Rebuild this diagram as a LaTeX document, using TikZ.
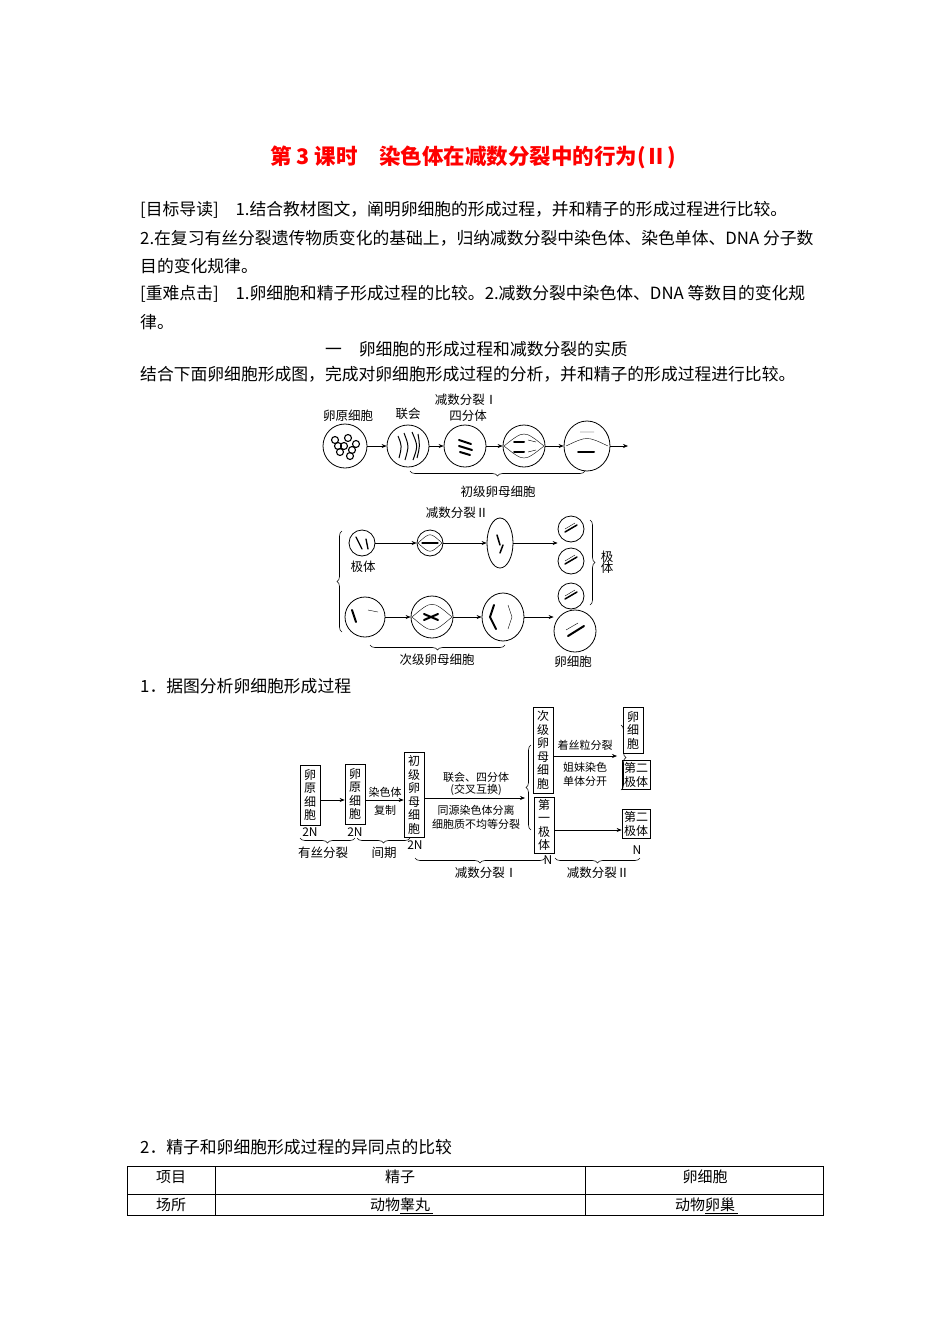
\documentclass[tikz,border=0pt]{standalone}
\usepackage{fontspec}
\setmainfont{Noto Sans CJK SC}
\usetikzlibrary{decorations.pathreplacing,arrows.meta,shapes.geometric}
\begin{document}
\begin{tikzpicture}[x=1pt,y=-1pt,
  body/.style={anchor=west,inner sep=0pt,font=\fontsize{16.8}{19}\selectfont},
  lab/.style={inner sep=0pt,font=\fontsize{12}{14}\selectfont},
  cell/.style={draw,line width=0.8pt},
  arr/.style={-{Stealth[length=5pt,width=4pt]},line width=0.6pt},
  br/.style={decorate,decoration={brace,amplitude=5pt},line width=0.6pt},
  vbox/.style={draw,line width=0.7pt,align=center,inner xsep=4pt,inner ysep=2pt,font=\fontsize{12}{13.5}\selectfont},
  chrom/.style={line width=2pt,line cap=round},
  thin/.style={line width=0.4pt}]
\fill[white] (0,0) rectangle (950,1344);
\useasboundingbox (0,0) rectangle (950,1344);
% title
\node[text=red,font=\fontsize{21.5}{24}\selectfont\bfseries] (title) at (473,157) {第 3 课时\quad 染色体在减数分裂中的行为(Ⅱ)};
\node[body] (l1) at (140,210) {[目标导读]\quad 1.结合教材图文，阐明卵细胞的形成过程，并和精子的形成过程进行比较。};
\node[body] (l2) at (140,238) {2.在复习有丝分裂遗传物质变化的基础上，归纳减数分裂中染色体、染色单体、DNA 分子数};
\node[body] (l3) at (140,266) {目的变化规律。};
\node[body] (l4) at (140,294) {[重难点击]\quad 1.卵细胞和精子形成过程的比较。2.减数分裂中染色体、DNA 等数目的变化规};
\node[body] (l5) at (140,322) {律。};
\node[body] (l6) at (325,349) {一\quad 卵细胞的形成过程和减数分裂的实质};
\node[body] (l7) at (140,374) {结合下面卵细胞形成图，完成对卵细胞形成过程的分析，并和精子的形成过程进行比较。};
% ---- cell figure top row
\node[cell,circle,minimum size=44pt] (c1) at (345,446) {};
\node[cell,circle,minimum size=42pt] (c2) at (408,446) {};
\node[cell,circle,minimum size=42pt] (c3) at (465,446) {};
\node[cell,circle,minimum size=42pt] (c4) at (524,446) {};
\node[cell,ellipse,draw,minimum width=46pt,minimum height=50pt,inner sep=0pt] (c5) at (587,446) {};
\coordinate (e1) at (628,446);
\draw[arr] (c1) -- (c2); \draw[arr] (c2) -- (c3); \draw[arr] (c3) -- (c4); \draw[arr] (c4) -- (c5); \draw[arr] (c5) -- (e1);
% contents
\foreach \a/\b in {335/440,340/452,348/438,352/450,344/446,356/444,338/446,350/456}{\draw[line width=1.1pt] (\a,\b) circle (3.5pt);}
\draw[line width=1pt] (398,436) .. controls (402,446) .. (399,458) (404,433) .. controls (409,446) .. (405,460) (412,432) .. controls (418,446) .. (413,460) (418,434) .. controls (420,446) .. (417,458);
\draw[chrom] (459,440) -- (471,444) (459,446) -- (472,450) (460,452) -- (470,455);
\draw[chrom] (514,442) -- (524,442) (514,452) -- (524,452);
\draw[thin] (528,440) -- (536,442) (528,452) -- (536,450);
\draw[thin] (504,446) .. controls (524,430) .. (544,446) (504,446) .. controls (524,462) .. (544,446);
\draw[chrom] (578,452) -- (594,452);
\draw[thin] (580,432) -- (594,432) (566,446) .. controls (587,436) .. (608,446);
% brace top
\draw[br] (585,471) -- (410,471);
\node[lab,font=\fontsize{12.5}{14}\selectfont] (t1) at (498,492) {初级卵母细胞};
\node[lab,font=\fontsize{12.5}{14}\selectfont] (t2) at (348,416) {卵原细胞};
\node[lab,font=\fontsize{12.5}{14}\selectfont] (t3) at (408,414) {联会};
\node[lab,font=\fontsize{12.5}{14}\selectfont] (t4) at (466,400) {减数分裂Ⅰ};
\node[lab,font=\fontsize{12.5}{14}\selectfont] (t5) at (468,416) {四分体};
\node[lab,font=\fontsize{12.5}{14}\selectfont] (t6) at (457,513) {减数分裂Ⅱ};
% second part upper row
\node[cell,circle,minimum size=26pt] (p1) at (362,543) {};
\node[cell,circle,minimum size=26pt] (p2) at (430,543) {};
\node[cell,ellipse,minimum width=26pt,minimum height=50pt] (p3) at (500,543) {};
\node[cell,circle,minimum size=26pt] (p4) at (571,529) {};
\node[cell,circle,minimum size=26pt] (p5) at (571,561) {};
\node[cell,circle,minimum size=26pt] (p6) at (571,596) {};
\draw[arr] (p1) -- (p2); \draw[arr] (p2) -- (p3); \draw[arr] (p3.east) -- (p4.west|-p3.east);
\draw[chrom,line width=1.3pt] (366,539) -- (368,549) (356,537) -- (362,549);
\draw[chrom,line width=1.3pt] (422,543) -- (438,543);
\draw[thin] (418,543) .. controls (430,532) .. (442,543) (418,543) .. controls (430,554) .. (442,543);
\draw[chrom,line width=1.5pt] (497,535) -- (500,545) (503,545) -- (500,553);
\foreach \y in {529,561,596}{\draw[chrom,line width=1.5pt] (565,\y+3) -- (577,\y-4); \draw[thin] (565,\y) -- (575,\y-6);}
\draw[br] (590,520) -- (590,605);
\node[lab,font=\fontsize{12.5}{14}\selectfont,align=center] (t7) at (607,562) {极\\[-3pt]体};
\node[lab,font=\fontsize{12.5}{14}\selectfont] (t8) at (363,567) {极体};
% lower row
\node[cell,circle,minimum size=40pt] (q1) at (365,617) {};
\node[cell,circle,minimum size=42pt] (q2) at (432,617) {};
\node[cell,ellipse,minimum width=42pt,minimum height=48pt] (q3) at (503,617) {};
\node[cell,circle,minimum size=42pt] (q4) at (575,631) {};
\draw[arr] (q1) -- (q2); \draw[arr] (q2) -- (q3); \draw[arr] (q3.east) -- (q4.west|-q3.east);
\draw[chrom] (352,610) -- (356,622); \draw[thin] (368,610) -- (378,612);
\draw[chrom] (424,614) -- (438,620) (424,620) -- (438,614);
\draw[thin] (412,617) .. controls (432,600) .. (452,617) (412,617) .. controls (432,634) .. (452,617);
\draw[chrom] (494,605) -- (490,617) -- (496,629);
\draw[thin] (508,605) -- (512,617) -- (508,629);
\draw[chrom] (568,636) -- (584,626); \draw[thin] (566,630) -- (578,623);
\draw[br] (342,632) -- (342,531);
\draw[br] (505,645) -- (370,645);
\node[lab,font=\fontsize{12.5}{14}\selectfont] (t9) at (437,660) {次级卵母细胞};
\node[lab,font=\fontsize{12.5}{14}\selectfont] (t10) at (573,662) {卵细胞};
% ---- section 1
\node[body] (s1) at (140,686) {1．据图分析卵细胞形成过程};
% flowchart
\node[vbox,minimum height=60pt] (f1) at (310,795) {卵\\原\\细\\胞};
\node[vbox,minimum height=60pt] (f2) at (355,794) {卵\\原\\细\\胞};
\node[vbox,minimum height=85pt] (f3) at (414,795) {初\\级\\卵\\母\\细\\胞};
\node[vbox,minimum height=86pt] (f4) at (543,750) {次\\级\\卵\\母\\细\\胞};
\node[vbox,minimum height=56pt] (f5) at (544,825) {第\\一\\极\\体};
\node[vbox,minimum height=46pt] (f6) at (633,730) {卵\\细\\胞};
\node[vbox,inner xsep=2pt] (f7) at (636,775) {第二\\极体};
\node[vbox,inner xsep=2pt] (f8) at (636,824) {第二\\极体};
\draw[arr] (f1.east|-0,800) -- (f2.west|-0,800);
\draw[arr] (f2.east|-0,800) -- (f3.west|-0,800);
\coordinate (bj) at (525,798);
\draw[arr] (f3.east|-bj) -- (bj);
\draw[br] (531,830) -- (531,745);
\coordinate (bk) at (617,756);
\draw[arr] (f4.east|-bk) -- (bk);
\draw[br] (621,725) -- (621,790);
\draw[arr] (f5.east|-0,830) -- (f8.west|-0,830);
\node[lab] (n1) at (310,832) {2N};
\node[lab] (n2) at (355,832) {2N};
\node[lab] (n3) at (415,845) {2N};
\node[lab] (n4) at (548,860) {N};
\node[lab] (n5) at (637,850) {N};
\node[lab,font=\fontsize{11}{13}\selectfont] (g1) at (385,792) {染色体};
\node[lab,font=\fontsize{11}{13}\selectfont] (g2) at (385,810) {复制};
\node[lab,font=\fontsize{11}{13}\selectfont] (g3) at (476,777) {联会、四分体};
\node[lab,font=\fontsize{11}{13}\selectfont] (g4) at (476,790) {(交叉互换)};
\node[lab,font=\fontsize{11}{13}\selectfont] (g5) at (476,810) {同源染色体分离};
\node[lab,font=\fontsize{11}{13}\selectfont] (g6) at (476,824) {细胞质不均等分裂};
\node[lab,font=\fontsize{11}{13}\selectfont] (g7) at (585,745) {着丝粒分裂};
\node[lab,font=\fontsize{11}{13}\selectfont] (g8) at (585,767) {姐妹染色};
\node[lab,font=\fontsize{11}{13}\selectfont] (g9) at (585,781) {单体分开};
\draw[br] (355,838) -- (300,838);
\draw[br] (410,838) -- (357,838);
\draw[br] (545,858) -- (415,858);
\draw[br] (640,858) -- (555,858);
\node[lab,font=\fontsize{12.5}{14}\selectfont] (h1) at (323,853) {有丝分裂};
\node[lab,font=\fontsize{12.5}{14}\selectfont] (h2) at (384,853) {间期};
\node[lab,font=\fontsize{12.5}{14}\selectfont] (h3) at (486,873) {减数分裂Ⅰ};
\node[lab,font=\fontsize{12.5}{14}\selectfont] (h4) at (598,873) {减数分裂Ⅱ};
% ---- section 2
\node[body] (s2) at (140,1147) {2．精子和卵细胞形成过程的异同点的比较};
\draw[line width=0.7pt] (127,1166) rectangle (823,1215);
\draw[line width=0.7pt] (127,1194) -- (823,1194) (215,1166) -- (215,1215) (585,1166) -- (585,1215);
\node[lab,font=\fontsize{15}{17}\selectfont] (r1) at (171,1177) {项目};
\node[lab,font=\fontsize{15}{17}\selectfont] (r2) at (400,1177) {精子};
\node[lab,font=\fontsize{15}{17}\selectfont] (r3) at (705,1177) {卵细胞};
\node[lab,font=\fontsize{15}{17}\selectfont] (r4) at (171,1205) {场所};
\node[lab,font=\fontsize{15}{17}\selectfont] (r5) at (400,1205) {动物睾丸};
\node[lab,font=\fontsize{15}{17}\selectfont] (r6) at (705,1205) {动物卵巢};
\draw[line width=0.5pt] (400,1213) -- (433,1213) (705,1213) -- (738,1213);
\end{tikzpicture}
\end{document}
